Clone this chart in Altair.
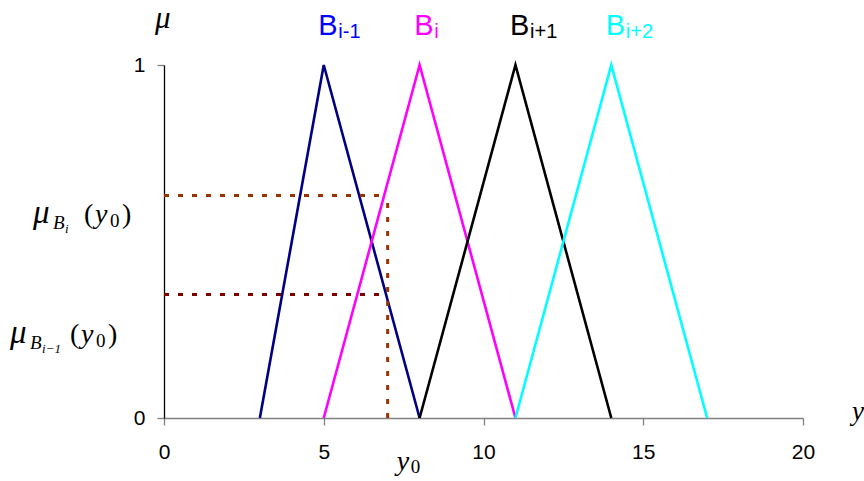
import altair as alt
import pandas as pd

# Triangular membership functions: (name, left foot, peak, right foot)
names = ["B_{i-1}", "B_i", "B_{i+1}", "B_{i+2}"]
feet_left = [3, 5, 8, 11]
peaks = [5, 8, 11, 14]
feet_right = [8, 11, 14, 17]
line_colors = ["#000080", "#FF00FF", "#000000", "#00FFFF"]
label_colors = ["#0000FF", "#FF00FF", "#000000", "#00FFFF"]
subscripts = ["i-1", "i", "i+1", "i+2"]

# Reading at the input value y0
y0 = 7
mu_bi = 0.63
mu_bim1 = 0.35

x_ticks = [0, 5, 10, 15, 20]
y_ticks = [0, 1]

W, H = 639, 353
XS = alt.Scale(domain=[0, 20], nice=False, zero=False)
YS = alt.Scale(domain=[0, 1], nice=False, zero=False)

rows = []
for n, a, b, c in zip(names, feet_left, peaks, feet_right):
    rows += [
        {"set": n, "x": a, "mu": 0.0, "k": 0},
        {"set": n, "x": b, "mu": 1.0, "k": 1},
        {"set": n, "x": c, "mu": 0.0, "k": 2},
    ]
tri_df = pd.DataFrame(rows)

triangles = alt.Chart(tri_df).mark_line(strokeWidth=2.6).encode(
    x=alt.X("x:Q", scale=XS,
            axis=alt.Axis(values=x_ticks, title="", grid=False, tickSize=7,
                          domainColor="#808080", tickColor="#808080",
                          labelFont="Liberation Sans", labelFontSize=21,
                          labelColor="#000000", labelPadding=16, labelFlush=False,
                          format="d", domainWidth=1.3, tickWidth=1.3)),
    y=alt.Y("mu:Q", scale=YS,
            axis=alt.Axis(values=y_ticks, title="", grid=False, tickSize=7,
                          domainColor="#000000", tickColor="#808080",
                          labelFont="Liberation Sans", labelFontSize=21,
                          labelColor="#000000", labelPadding=12, labelFlush=False,
                          format="d", domainWidth=1.3, tickWidth=1.3)),
    color=alt.Color("set:N", scale=alt.Scale(domain=names, range=line_colors), legend=None),
    order="k:Q",
)

dash = [5, 9]
h_df = pd.DataFrame({"x": [0, 0], "x2": [y0, y0], "y": [mu_bi, mu_bim1],
                     "c": ["#993300", "#800000"]})
h_lines = alt.Chart(h_df).mark_rule(strokeWidth=3, strokeDash=dash).encode(
    x=alt.X("x:Q", scale=XS), x2="x2:Q", y=alt.Y("y:Q", scale=YS),
    color=alt.Color("c:N", scale=None),
)
v_df = pd.DataFrame({"x": [y0], "y": [0], "y2": [mu_bi]})
v_line = alt.Chart(v_df).mark_rule(strokeWidth=3, strokeDash=dash, color="#993300").encode(
    x=alt.X("x:Q", scale=XS), y=alt.Y("y:Q", scale=YS), y2="y2:Q",
)

# Set names above the peaks
lab_df = pd.DataFrame({"x": [p - 0.17 for p in peaks], "y": [1.085] * 4,
                       "sub": subscripts, "c": label_colors, "B": ["B"] * 4})
big_b = alt.Chart(lab_df).mark_text(align="left", baseline="alphabetic",
                                    font="Liberation Sans", fontSize=29).encode(
    x=alt.X("x:Q", scale=XS), y=alt.Y("y:Q", scale=YS), text="B:N",
    color=alt.Color("c:N", scale=None),
)
small_sub = alt.Chart(lab_df).mark_text(align="left", baseline="alphabetic", dx=20, dy=3,
                                        font="Liberation Sans", fontSize=20).encode(
    x=alt.X("x:Q", scale=XS), y=alt.Y("y:Q", scale=YS), text="sub:N",
    color=alt.Color("c:N", scale=None),
)


def piece(text, xv, yv, dx, dy, size, italic=True):
    d = pd.DataFrame({"x": [xv], "y": [yv], "t": [text]})
    return alt.Chart(d).mark_text(
        align="left", baseline="alphabetic", dx=dx, dy=dy,
        font="Liberation Serif", fontSize=size,
        fontStyle="italic" if italic else "normal", color="#000000",
    ).encode(x=alt.X("x:Q", scale=XS), y=alt.Y("y:Q", scale=YS), text="t:N")


def mu_label(yv, x_mu, sub_idx, x_paren):
    # mu_{B_sub}(y_0), offsets are pixels left of the y axis
    parts = [
        piece("\u03bc", 0, yv, x_mu - 164, 0, 33),
        piece("B", 0, yv, x_mu + 20 - 164, 6, 19),
        piece(sub_idx, 0, yv, x_mu + 32 - 164, 10, 13),
        piece("(", 0, yv, x_paren - 164, 0, 28, italic=False),
        piece("y", 0, yv, x_paren + 11 - 164, 0, 28),
        piece("0", 0, yv, x_paren + 26 - 164, 4, 19, italic=False),
        piece(")", 0, yv, x_paren + 38 - 164, 0, 28, italic=False),
    ]
    return parts


lbl_bi = mu_label(0.552, 33, "i", 84)
lbl_bim1 = mu_label(0.212, 10, "i\u22121", 70)

mu_top = piece("\u03bc", 0, 1.105, -9, 0, 31)
y0_lab = [piece("y", y0, -0.147, 9, 0, 28), piece("0", y0, -0.147, 23, 3, 19, italic=False)]
y_lab = piece("y", 20, -0.005, 49, 0, 27)

chart = alt.layer(
    triangles, h_lines, v_line, big_b, small_sub, mu_top, y_lab,
    *lbl_bi, *lbl_bim1, *y0_lab,
).properties(
    width=W, height=H,
    autosize=alt.AutoSizeParams(type="none"),
    padding={"left": 164, "top": 65, "right": 61, "bottom": 63},
).configure_view(stroke=None)

chart.save("out.html", embed_options={"renderer": "svg", "actions": False})
